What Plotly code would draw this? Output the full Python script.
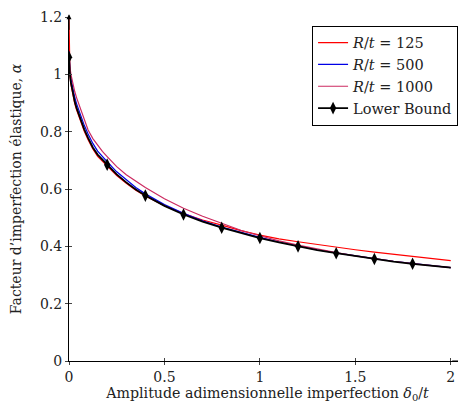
import plotly.graph_objects as go

# ---- data ----
delta = [0, 0.0025, 0.005, 0.01, 0.02, 0.03, 0.04, 0.06, 0.08, 0.1, 0.125, 0.15, 0.175,
         0.2, 0.25, 0.3, 0.35, 0.4, 0.5, 0.6, 0.7, 0.8, 0.9, 1.0, 1.1, 1.2, 1.3, 1.4,
         1.5, 1.6, 1.7, 1.8, 1.9, 2.0]

alpha_125 = [1.2, 1.02, 0.995, 0.965, 0.927, 0.898, 0.875, 0.834, 0.801, 0.772, 0.74, 0.714,
             0.697, 0.68, 0.647, 0.62, 0.596, 0.576, 0.542, 0.514, 0.492, 0.474, 0.455, 0.439,
             0.426, 0.416, 0.406, 0.397, 0.388, 0.38, 0.373, 0.366, 0.358, 0.350]

alpha_500 = [1.08, 1.03, 1.012, 0.985, 0.948, 0.92, 0.897, 0.856, 0.822, 0.792, 0.759, 0.732,
             0.713, 0.695, 0.66, 0.631, 0.605, 0.583, 0.546, 0.515, 0.489, 0.467, 0.448, 0.431,
             0.415, 0.401, 0.388, 0.377, 0.366, 0.357, 0.348, 0.340, 0.333, 0.326]

alpha_1000 = [1.07, 1.04, 1.025, 1.0, 0.967, 0.94, 0.918, 0.88, 0.847, 0.806, 0.776, 0.752,
              0.731, 0.713, 0.678, 0.65, 0.626, 0.605, 0.566, 0.533, 0.505, 0.48, 0.456, 0.437,
              0.419, 0.404, 0.39, 0.378, 0.367, 0.357, 0.348, 0.340, 0.333, 0.326]

alpha_lb = [1.06, 1.015, 0.997, 0.971, 0.934, 0.905, 0.882, 0.841, 0.808, 0.778, 0.745, 0.72,
            0.702, 0.685, 0.651, 0.623, 0.598, 0.577, 0.541, 0.511, 0.486, 0.465, 0.446, 0.429,
            0.414, 0.400, 0.387, 0.376, 0.366, 0.356, 0.347, 0.339, 0.332, 0.326]

mark_delta = [0, 0.2, 0.4, 0.6, 0.8, 1.0, 1.2, 1.4, 1.6, 1.8]

x_ticks = [0, 0.5, 1, 1.5, 2]
x_labels = ["0", "0.5", "1", "1.5", "2"]
y_ticks = [0, 0.2, 0.4, 0.6, 0.8, 1.0, 1.2]
y_labels = ["0", "0.2", "0.4", "0.6", "0.8", "1", "1.2"]

names = ["<i>R</i>/<i>t</i> = 125", "<i>R</i>/<i>t</i> = 500", "<i>R</i>/<i>t</i> = 1000"]
colors = ["#ff0000", "#0000e6", "#cc2a60"]

FONT = "DejaVu Serif"

fig = go.Figure()
for ys, nm, c in zip([alpha_125, alpha_500, alpha_1000], names, colors):
    fig.add_trace(go.Scatter(x=delta, y=ys, mode="lines", name=nm,
                             line=dict(color=c, width=1.2)))

fig.add_trace(go.Scatter(x=delta, y=alpha_lb, mode="lines", showlegend=False,
                         line=dict(color="black", width=1.8), hoverinfo="skip"))
mk = [(d, a) for d, a in zip(delta, alpha_lb) if any(abs(d - m) < 1e-9 for m in mark_delta)]
fig.add_trace(go.Scatter(x=[p[0] for p in mk], y=[p[1] for p in mk], mode="markers",
                         showlegend=False,
                         marker=dict(symbol="diamond-tall", size=9, color="black")))
fig.add_trace(go.Scatter(x=[None], y=[None], mode="lines+markers", name="Lower Bound",
                         line=dict(color="black", width=1.8),
                         marker=dict(symbol="diamond-tall", size=9, color="black")))

axis_common = dict(showgrid=False, zeroline=False, showline=True, linecolor="black",
                   linewidth=1, ticks="outside", ticklen=3, tickcolor="#444",
                   automargin=False,
                   tickfont=dict(family=FONT, size=14, color="#222"))

# the page body adds an 8 px offset, so the figure is 8 px smaller with margins reduced
fig.update_layout(
    width=458, height=395,
    margin=dict(l=61, r=0, t=9, b=42, autoexpand=False),
    plot_bgcolor="white", paper_bgcolor="white",
    font=dict(family=FONT, size=14, color="#222"),
    xaxis=dict(range=[0, 2.08], tickvals=x_ticks, ticktext=x_labels,
               title=dict(text="Amplitude adimensionnelle imperfection <i>δ</i><sub>0</sub>/<i>t</i>",
                          font=dict(family=FONT, size=14.2)),
               **axis_common),
    yaxis=dict(range=[0, 1.2], tickvals=y_ticks, ticktext=y_labels,
               title=dict(text="Facteur d’imperfection élastique, <i>α</i>",
                          font=dict(family=FONT, size=14)),
               **axis_common),
    xaxis2=dict(overlaying="x", matches="x", range=[0, 2.08], tickvals=x_ticks,
                showticklabels=False, ticks="inside", ticklen=3, tickcolor="#444",
                showgrid=False, zeroline=False, showline=False, anchor="y"),
    yaxis2=dict(overlaying="y", matches="y", range=[0, 1.2], tickvals=y_ticks,
                showticklabels=False, ticks="inside", ticklen=3, tickcolor="#444",
                showgrid=False, zeroline=False, showline=False, anchor="x"),
    legend=dict(x=0.98, y=0.975, xanchor="right", yanchor="top",
                bordercolor="black", borderwidth=1, bgcolor="white",
                font=dict(family=FONT, size=14.5, color="#222"), tracegroupgap=0),
    showlegend=True,
)

# dummy trace to activate the overlay tick axes
fig.add_trace(go.Scatter(x=[None], y=[None], xaxis="x2", yaxis="y2", showlegend=False))

# axis arrows
fig.add_annotation(x=2.08, y=0, ax=2.0, ay=0, xref="x", yref="y", axref="x", ayref="y",
                   text="", showarrow=True, arrowhead=2, arrowsize=1, arrowwidth=1,
                   arrowcolor="black")
fig.add_annotation(x=0, y=1.21, ax=0, ay=1.15, xref="x", yref="y", axref="x", ayref="y",
                   text="", showarrow=True, arrowhead=2, arrowsize=1, arrowwidth=1,
                   arrowcolor="black")

fig.write_html("out.html")
